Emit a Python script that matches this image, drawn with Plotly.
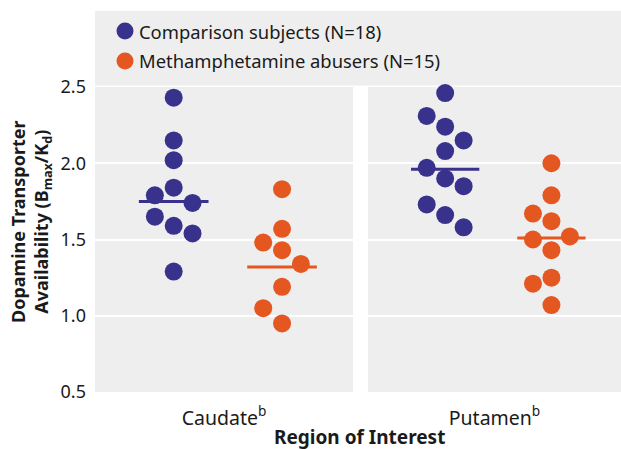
import plotly.graph_objects as go

# ---- data ----
regions = ["Caudate<sup>b</sup>", "Putamen<sup>b</sup>"]
group_names = ["Comparison subjects (N=18)", "Methamphetamine abusers (N=15)"]

caudate_comparison = [2.43, 2.15, 2.02, 1.84, 1.79, 1.74, 1.65, 1.59, 1.54, 1.29]
caudate_methamphetamine = [1.83, 1.57, 1.48, 1.43, 1.34, 1.19, 1.05, 0.95]
putamen_comparison = [2.46, 2.31, 2.24, 2.15, 2.08, 1.97, 1.90, 1.85, 1.73, 1.66, 1.58]
putamen_methamphetamine = [2.00, 1.79, 1.67, 1.62, 1.52, 1.50, 1.43, 1.25, 1.21, 1.07]

caudate_means = [1.75, 1.32]
putamen_means = [1.96, 1.51]

y_ticks = [0.5, 1.0, 1.5, 2.0, 2.5]

# dot-plot column slots (layout of overlapping dots: -1 left, 0 centre, 1 right)
caudate_comparison_slot = [0, 0, 0, 0, -1, 1, -1, 0, 1, 0]
caudate_methamphetamine_slot = [0, 0, -1, 0, 1, 0, -1, 0]
putamen_comparison_slot = [0, -1, 0, 1, 0, -1, 0, 1, -1, 0, 1]
putamen_methamphetamine_slot = [0, 0, -1, 0, 1, -1, 0, 0, -1, 0]

# ---- style ----
BLUE = "rgb(56,50,140)"
ORANGE = "rgb(229,87,33)"
GRAY = "rgb(238,238,238)"
TEXT = "#1a1a1a"
FONT = "Noto Sans"
colors = [BLUE, ORANGE]
centers = [0.305, 0.725]
slot_step = 0.073
mean_half = 0.135
msize = 18

W, H = 621, 449
ml, mr, mt, mb = 95, 0, 87, 57
pw = W - ml - mr
ph = H - mt - mb

fig = go.Figure()

panels = [
    ([caudate_comparison, caudate_methamphetamine],
     [caudate_comparison_slot, caudate_methamphetamine_slot], caudate_means, "x", "y"),
    ([putamen_comparison, putamen_methamphetamine],
     [putamen_comparison_slot, putamen_methamphetamine_slot], putamen_means, "x2", "y2"),
]

# mean lines first (drawn beneath dots)
for vals_list, slots_list, means, xa, ya in panels:
    for g in range(2):
        fig.add_trace(go.Scatter(
            x=[centers[g] - mean_half, centers[g] + mean_half],
            y=[means[g], means[g]], mode="lines", xaxis=xa, yaxis=ya,
            showlegend=False, line=dict(color=colors[g], width=3), hoverinfo="skip"))

for vals_list, slots_list, means, xa, ya in panels:
    for g, (vals, slots) in enumerate(zip(vals_list, slots_list)):
        fig.add_trace(go.Scatter(
            x=[centers[g] + s * slot_step for s in slots], y=vals,
            mode="markers", xaxis=xa, yaxis=ya, showlegend=False,
            marker=dict(size=msize, color=colors[g], line=dict(width=0)),
            cliponaxis=False, hoverinfo="y"))

d1 = (353 - ml) / pw
d2 = (368 - ml) / pw

axis_common = dict(range=[0, 1], showgrid=False, zeroline=False, showline=False,
                   ticks="", tickfont=dict(family=FONT, size=19.5, color=TEXT),
                   tickvals=[0.5], ticklabelstandoff=12, fixedrange=True)
yaxis_common = dict(range=[0.5, 2.5], tickvals=y_ticks, tickformat=".1f",
                    showgrid=True, gridcolor="white", gridwidth=2,
                    zeroline=False, showline=False, ticks="",
                    tickfont=dict(family=FONT, size=18, color=TEXT))

fig.update_layout(
    width=W, height=H,
    margin=dict(l=ml, r=mr, t=mt, b=mb),
    paper_bgcolor="white", plot_bgcolor=GRAY,
    showlegend=False,
    xaxis=dict(domain=[0, d1], ticktext=[regions[0]], **axis_common),
    xaxis2=dict(domain=[d2, 1], ticktext=[regions[1]], anchor="y2", **axis_common),
    yaxis=dict(anchor="x", ticklabelstandoff=8, **yaxis_common),
    yaxis2=dict(anchor="x2", matches="y", showticklabels=False, **yaxis_common),
)

# legend box (gray band above panels)
top_paper = (H - mb - 11) / ph
fig.add_shape(type="rect", xref="paper", yref="paper", x0=0, x1=1,
              y0=1 + 1.5 / ph, y1=top_paper, fillcolor=GRAY, line=dict(width=0),
              layer="below")

legend_rows_px = [31, 61]
for g, row in enumerate(legend_rows_px):
    yp = (H - mb - row) / ph
    fig.add_shape(type="circle", xref="paper", yref="paper",
                  xsizemode="pixel", ysizemode="pixel",
                  xanchor=(125 - ml) / pw, yanchor=yp,
                  x0=-8.5, x1=8.5, y0=-8.5, y1=8.5,
                  fillcolor=colors[g], line=dict(width=0))
    fig.add_annotation(xref="paper", yref="paper", x=(137 - ml) / pw, y=yp,
                       xanchor="left", yanchor="middle", showarrow=False,
                       text=group_names[g],
                       font=dict(family=FONT, size=18.4, color=TEXT))

# axis titles
fig.add_annotation(xref="paper", yref="paper", x=(359 - ml) / pw, y=(H - mb - 437) / ph,
                   xanchor="center", yanchor="middle", showarrow=False,
                   text="<b>Region of Interest</b>",
                   font=dict(family=FONT, size=19, color=TEXT))
fig.add_annotation(xref="paper", yref="paper", x=(31 - ml) / pw, y=(H - mb - 222) / ph,
                   xanchor="center", yanchor="middle", showarrow=False, textangle=-90,
                   text="<b>Dopamine Transporter<br>Availability (B<sub>max</sub>/K<sub>d</sub>)</b>",
                   font=dict(family=FONT, size=18, color=TEXT))

fig.write_html("out.html", config={"displayModeBar": False},
               post_script="document.body.style.margin='0';")
